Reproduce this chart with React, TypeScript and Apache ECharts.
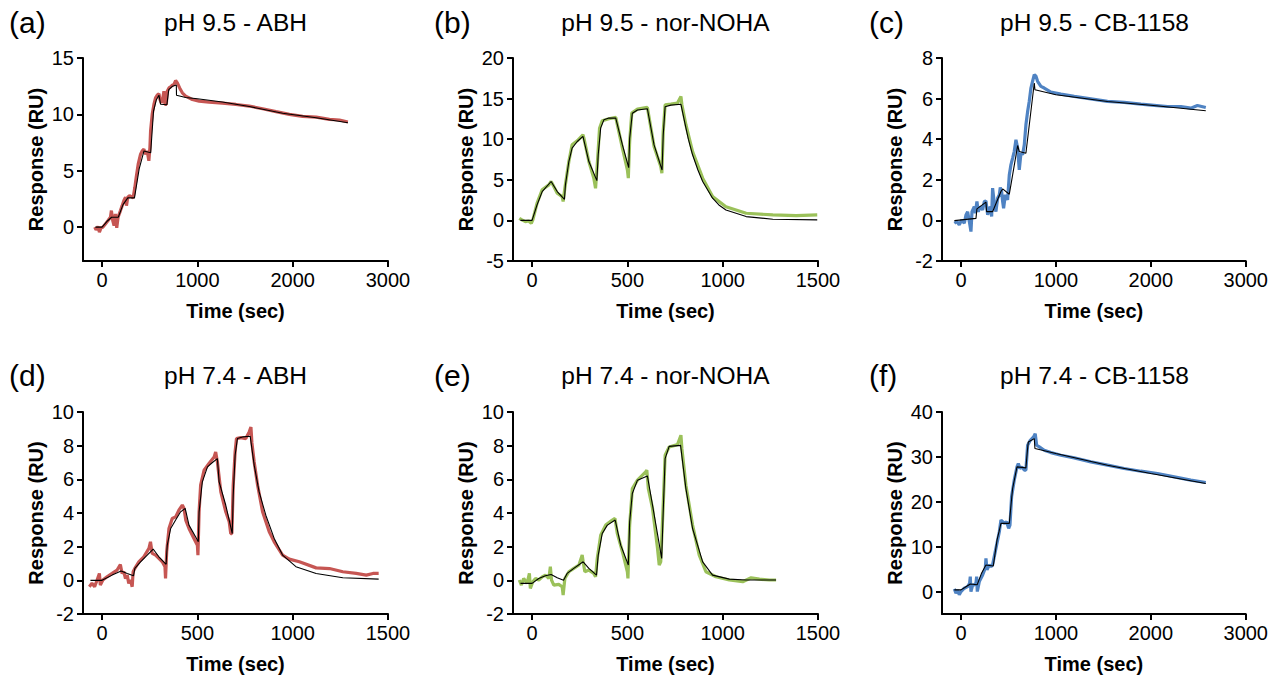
import React, { useEffect, useRef } from "react";
import * as echarts from "echarts";

const panelLabels = ["(a)", "(b)", "(c)", "(d)", "(e)", "(f)"];
const panelTitles = [
  "pH 9.5 - ABH",
  "pH 9.5 - nor-NOHA",
  "pH 9.5 - CB-1158",
  "pH 7.4 - ABH",
  "pH 7.4 - nor-NOHA",
  "pH 7.4 - CB-1158",
];
const xTicksLong = [0, 1000, 2000, 3000];
const xTicksShort = [0, 500, 1000, 1500];
const yTicksA = [0, 5, 10, 15];
const yTicksB = [-5, 0, 5, 10, 15, 20];
const yTicksC = [-2, 0, 2, 4, 6, 8];
const yTicksD = [-2, 0, 2, 4, 6, 8, 10];
const yTicksE = [-2, 0, 2, 4, 6, 8, 10];
const yTicksF = [0, 10, 20, 30, 40];

const aData = [[-77,0],[-63,-0.24],[-42,0.06],[-28,-0.44],[-11,-0.06],[7,0],[35,0.29],[63,0.59],[88,0.88],[98,1.47],[112,0.59],[126,0.15],[140,1.18],[154,-0.06],[168,0.88],[193,1.47],[211,1.91],[228,2.35],[246,2.65],[256,1.91],[270,2.65],[288,2.79],[309,2.71],[326,2.59],[344,3.53],[358,4.41],[379,5.59],[404,6.47],[421,6.76],[439,6.91],[456,6.47],[474,6.76],[491,5.88],[502,7.06],[509,8.53],[526,10.0],[544,10.88],[561,11.47],[579,11.71],[597,11.82],[607,11.32],[621,11.03],[632,11.18],[649,12.06],[660,10.88],[674,10.88],[684,12.06],[702,12.35],[719,12.44],[737,12.59],[754,12.65],[772,13.0],[790,12.79],[814,12.35],[842,11.91],[877,11.62],[947,11.32],[1018,11.18],[1123,11.09],[1263,11.0],[1404,10.88],[1544,10.74],[1684,10.5],[1825,10.24],[1965,10.0],[2105,9.82],[2246,9.76],[2386,9.56],[2491,9.5],[2579,9.32]];
const aFit = [[-70,0],[0,0],[50,0.5],[100,0.88],[170,0.88],[220,2.0],[270,2.6],[340,2.6],[390,5.2],[440,6.76],[510,6.6],[540,10.3],[570,11.3],[597,11.7],[614,10.9],[680,10.85],[700,12.2],[740,12.5],[779,12.6],[781,11.7],[877,11.5],[1000,11.38],[1263,11.1],[1544,10.7],[1895,10.1],[2246,9.7],[2580,9.26]];

const bData = [[-67,0.26],[-53,0.06],[-35,-0.15],[-18,-0.07],[-4,-0.35],[4,0.06],[26,2.11],[53,3.77],[88,4.37],[100,4.79],[114,4.17],[132,3.35],[158,2.93],[163,2.32],[172,3.95],[193,7.25],[210,9.31],[237,9.8],[267,10.54],[272,10.13],[298,7.25],[324,5.2],[333,3.95],[342,6.84],[354,11.35],[368,12.27],[403,12.52],[439,12.68],[474,8.9],[500,6.23],[505,5.2],[512,9.72],[523,13.21],[553,13.71],[605,13.91],[640,9.1],[675,6.64],[681,5.81],[688,10.95],[698,14.24],[728,14.33],[763,14.45],[781,15.27],[786,14.24],[807,11.78],[842,8.47],[895,5.2],[947,2.93],[1017,1.69],[1123,0.88],[1263,0.67],[1386,0.59],[1496,0.67]];
const bFit = [[-61,0],[0,0],[26,1.9],[53,3.55],[100,4.79],[132,3.55],[170,2.6],[175,4.38],[193,7.25],[210,8.9],[237,9.72],[267,10.34],[298,7.25],[340,4.9],[347,8.08],[360,11.4],[377,12.4],[403,12.6],[439,12.6],[474,9.3],[507,6.5],[512,10.1],[526,13.2],[553,13.6],[605,13.75],[640,9.3],[682,6.2],[688,10.5],[698,14.0],[728,14.2],[781,14.3],[807,11.4],[820,10.0],[842,8.08],[870,6.2],[895,4.79],[947,2.73],[980,1.9],[1017,1.29],[1123,0.47],[1263,0.14],[1496,0.06]];

const cData = [[-70,-0.14],[-42,-0.06],[-18,-0.22],[7,0.02],[35,-0.14],[53,0.27],[70,0.43],[88,-0.06],[105,-0.55],[116,0.43],[140,0.68],[151,0.35],[168,0.93],[182,0.43],[204,0.68],[228,0.52],[246,0.93],[263,0.96],[281,0.27],[291,0.43],[309,0.68],[323,0.19],[333,1.59],[351,0.85],[368,0.43],[386,1.09],[404,1.26],[414,1.62],[428,1.42],[439,0.93],[449,0.6],[467,1.26],[491,1.01],[509,2.24],[526,2.74],[544,3.07],[561,3.39],[579,3.97],[597,3.56],[614,2.49],[632,3.31],[649,3.23],[667,3.72],[684,4.71],[702,5.36],[719,5.86],[737,6.52],[754,6.85],[772,7.18],[790,7.1],[807,6.85],[842,6.6],[877,6.52],[947,6.32],[1053,6.22],[1193,6.11],[1368,5.99],[1544,5.86],[1719,5.81],[1895,5.73],[2035,5.67],[2176,5.61],[2316,5.61],[2421,5.53],[2491,5.66],[2579,5.56]];
const cFit = [[-70,-0.01],[158,0.1],[168,0.57],[263,0.9],[270,0.43],[333,0.43],[421,1.42],[439,1.55],[509,1.29],[526,1.75],[597,3.69],[614,3.39],[684,3.31],[772,6.77],[779,6.44],[1000,6.19],[1544,5.86],[2000,5.67],[2579,5.4]];

const dData = [[-67,-0.38],[-53,-0.18],[-39,-0.38],[-26,0.02],[-14,0.41],[-9,-0.28],[4,0.02],[26,0.21],[53,0.41],[79,0.61],[96,0.94],[105,0.41],[114,0.51],[123,0.11],[132,0.31],[140,-0.18],[149,0.02],[158,-0.38],[163,0.51],[172,0.71],[193,1.1],[219,1.4],[246,1.9],[254,2.29],[263,1.6],[281,1.5],[298,1.3],[316,1.1],[330,0.81],[333,0.11],[339,1.7],[351,3.08],[368,3.67],[386,3.77],[403,4.17],[421,4.47],[430,4.27],[439,3.58],[456,3.08],[482,2.49],[500,2.09],[503,1.5],[509,4.07],[517,5.65],[535,6.54],[561,6.94],[588,7.33],[596,7.63],[605,7.03],[623,5.26],[649,4.07],[667,3.48],[675,2.78],[681,2.78],[688,5.65],[698,7.63],[705,8.42],[728,8.48],[754,8.42],[772,8.82],[781,9.11],[786,8.18],[798,7.03],[816,5.65],[842,4.07],[877,2.88],[903,2.29],[947,1.5],[982,1.26],[1035,1.1],[1123,0.74],[1193,0.7],[1263,0.51],[1333,0.41],[1386,0.31],[1421,0.41],[1451,0.41]];
const dFit = [[-61,0],[0,0],[53,0.31],[100,0.55],[132,0.41],[165,0.27],[172,0.71],[202,1.1],[237,1.5],[268,1.86],[298,1.4],[336,0.95],[342,2.09],[360,3.08],[386,3.58],[412,4.07],[436,4.27],[456,3.28],[505,2.29],[509,4.07],[526,5.85],[553,6.74],[579,7.0],[605,7.23],[614,5.85],[649,4.46],[683,2.78],[688,5.05],[698,7.43],[710,8.42],[737,8.52],[777,8.56],[798,6.84],[824,5.25],[859,3.87],[903,2.49],[947,1.5],[1017,0.81],[1123,0.41],[1263,0.15],[1451,0.07]];

const eData = [[-67,0.02],[-56,-0.28],[-44,0.11],[-26,-0.18],[-14,0.41],[-9,-0.48],[4,-0.08],[18,0.11],[35,0.02],[53,0.21],[70,0.31],[88,0.11],[96,0.81],[102,0.02],[114,-0.28],[140,-0.24],[158,-0.38],[163,-0.87],[172,0.11],[193,0.51],[219,0.71],[246,0.91],[263,1.5],[268,1.1],[277,0.51],[298,0.61],[324,0.41],[333,0.21],[342,1.3],[360,2.68],[386,3.28],[421,3.58],[435,3.68],[447,2.79],[474,1.7],[500,0.51],[503,0.11],[512,3.28],[526,5.45],[553,5.95],[596,6.44],[602,6.54],[610,5.45],[632,4.27],[658,1.9],[667,0.91],[675,1.1],[688,4.47],[698,7.43],[719,7.92],[763,8.06],[781,8.62],[786,7.82],[807,5.65],[842,3.28],[877,1.5],[912,0.51],[965,0.21],[1035,0.02],[1105,-0.08],[1149,0.15],[1193,0.07],[1245,0.02],[1280,0.02]];
const eFit = [[-61,-0.18],[0,-0.18],[35,0.11],[70,0.27],[100,0.35],[132,0.15],[165,0.0],[184,0.41],[219,0.71],[268,1.1],[298,0.71],[338,0.31],[347,1.5],[368,2.78],[395,3.28],[436,3.58],[465,2.09],[505,0.91],[512,3.48],[526,5.16],[553,5.95],[605,6.2],[632,4.46],[680,1.3],[688,4.07],[698,7.23],[719,7.96],[779,8.02],[807,5.45],[842,3.08],[895,1.1],[947,0.31],[1035,0.07],[1123,0.02],[1280,0.02]];

const fData = [[-70,0.59],[-53,-0.37],[-35,0.37],[-18,-0.74],[0,0],[35,0.74],[70,1.11],[91,1.85],[98,3.33],[105,0],[123,1.48],[140,1.48],[158,1.85],[165,3.33],[172,0],[193,2.22],[228,3.7],[256,5.19],[263,7.41],[274,4.81],[298,5.93],[316,5.56],[333,5.93],[368,9.63],[404,13.33],[421,15.93],[439,15.56],[456,15.19],[481,15.56],[502,14.07],[516,14.81],[533,21.11],[561,24.81],[590,27.78],[604,28.52],[621,27.41],[642,27.78],[667,27.04],[684,27.04],[702,32.59],[730,33.7],[765,34.44],[782,35.19],[797,32.59],[825,32.22],[877,31.48],[947,30.96],[1053,30.37],[1193,29.78],[1368,28.89],[1544,28.15],[1719,27.41],[1895,26.81],[2070,26.3],[2246,25.56],[2421,24.81],[2579,24.3]];
const fFit = [[-70,0.37],[0,0.37],[40,0.9],[98,1.7],[170,1.5],[215,4.0],[263,5.93],[340,5.7],[380,11.5],[421,15.19],[509,15.19],[530,20.0],[544,22.96],[590,27.78],[684,27.56],[700,31.5],[709,33.33],[772,34.07],[779,31.85],[1000,30.74],[1544,28.15],[2000,26.3],[2579,24.07]];

const RED = "#C65653";
const GREEN = "#9BC15A";
const BLUE = "#4F83C3";
const FONT = "'Liberation Sans', Arial, Helvetica, sans-serif";

const panels = [
  { data: aData, fit: aFit, color: RED, xMin: -200, xMax: 3000, xTicks: xTicksLong, yMin: -3, yMax: 15, yTicks: yTicksA },
  { data: bData, fit: bFit, color: GREEN, xMin: -100, xMax: 1500, xTicks: xTicksShort, yMin: -5, yMax: 20, yTicks: yTicksB },
  { data: cData, fit: cFit, color: BLUE, xMin: -200, xMax: 3000, xTicks: xTicksLong, yMin: -2, yMax: 8, yTicks: yTicksC },
  { data: dData, fit: dFit, color: RED, xMin: -100, xMax: 1500, xTicks: xTicksShort, yMin: -2, yMax: 10, yTicks: yTicksD },
  { data: eData, fit: eFit, color: GREEN, xMin: -100, xMax: 1500, xTicks: xTicksShort, yMin: -2, yMax: 10, yTicks: yTicksE },
  { data: fData, fit: fFit, color: BLUE, xMin: -200, xMax: 3000, xTicks: xTicksLong, yMin: -5, yMax: 40, yTicks: yTicksF },
];

const colLeft = [83, 513, 942];
const rowTop = [58, 412];
const GW = 305;
const GH = [203, 202];
const labelX = [9, 434, 869];
const labelY = [22, 375];
const titleY = [22, 375];

function buildOption() {
  const grid: any[] = [];
  const xAxis: any[] = [];
  const yAxis: any[] = [];
  const series: any[] = [];
  const graphic: any[] = [];
  panels.forEach((p, i) => {
    const c = i % 3;
    const r = Math.floor(i / 3);
    grid.push({ left: colLeft[c], top: rowTop[r], width: GW, height: GH[r], containLabel: false });
    const axisCommon = {
      gridIndex: i,
      type: "value",
      splitLine: { show: false },
      nameLocation: "middle",
      nameTextStyle: { fontWeight: "bold", fontSize: 20, color: "#000", fontFamily: FONT },
    };
    xAxis.push({
      ...axisCommon,
      min: p.xMin,
      max: p.xMax,
      name: "Time (sec)",
      nameGap: 40,
      axisLine: { show: true, onZero: false, lineStyle: { color: "#000", width: 2 } },
      axisTick: { show: true, length: 6, customValues: p.xTicks, lineStyle: { color: "#000", width: 2 } },
      axisLabel: {
        customValues: p.xTicks,
        formatter: (v: number) => String(v),
        color: "#000",
        fontSize: 20,
        fontFamily: FONT,
        margin: 9,
      },
    });
    yAxis.push({
      ...axisCommon,
      min: p.yMin,
      max: p.yMax,
      name: "Response (RU)",
      nameGap: 37,
      axisLine: { show: true, onZero: false, lineStyle: { color: "#000", width: 2 } },
      axisTick: { show: true, length: 6, customValues: p.yTicks, lineStyle: { color: "#000", width: 2 } },
      axisLabel: {
        customValues: p.yTicks,
        formatter: (v: number) => String(v),
        color: "#000",
        fontSize: 20,
        fontFamily: FONT,
        margin: 9,
      },
    });
    series.push({
      type: "line",
      xAxisIndex: i,
      yAxisIndex: i,
      data: p.data,
      showSymbol: false,
      lineStyle: { color: p.color, width: 3.2 },
      itemStyle: { color: p.color },
      z: 2,
    });
    series.push({
      type: "line",
      xAxisIndex: i,
      yAxisIndex: i,
      data: p.fit,
      showSymbol: false,
      lineStyle: { color: "#000", width: 1.1 },
      itemStyle: { color: "#000" },
      z: 3,
    });
    graphic.push({
      type: "text",
      x: labelX[c],
      y: labelY[r],
      style: { text: panelLabels[i], fontSize: 30, fontFamily: FONT, fill: "#000", textAlign: "left", textVerticalAlign: "middle" },
    });
    graphic.push({
      type: "text",
      x: colLeft[c] + GW / 2,
      y: titleY[r],
      style: { text: panelTitles[i], fontSize: 24.5, fontFamily: FONT, fill: "#000", textAlign: "center", textVerticalAlign: "middle" },
    });
  });
  return { animation: false, backgroundColor: "#fff", grid, xAxis, yAxis, series, graphic };
}

export default function App() {
  const ref = useRef<HTMLDivElement>(null);
  useEffect(() => {
    const chart = echarts.init(ref.current!, null, { renderer: "svg" });
    chart.setOption(buildOption() as any);
    return () => chart.dispose();
  }, []);
  return (
    <div
      ref={ref}
      style={{ position: "fixed", left: 0, top: 0, width: 1271, height: 675, background: "#fff" }}
    />
  );
}
